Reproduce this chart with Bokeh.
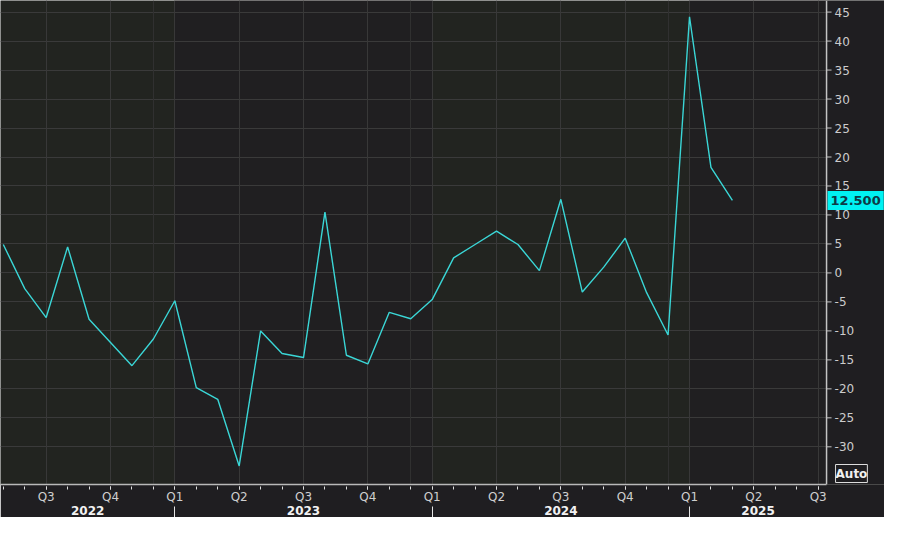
from bokeh.plotting import figure
from bokeh.models import LinearAxis, FixedTicker, Range1d, Grid, BoxAnnotation, Label, Span
from bokeh.core.properties import value
from bokeh.embed import file_html
from bokeh.resources import INLINE

# ---- data ----
months = ["2022-05", "2022-06", "2022-07", "2022-08", "2022-09", "2022-10", "2022-11", "2022-12",
          "2023-01", "2023-02", "2023-03", "2023-04", "2023-05", "2023-06", "2023-07", "2023-08",
          "2023-09", "2023-10", "2023-11", "2023-12",
          "2024-01", "2024-02", "2024-03", "2024-04", "2024-05", "2024-06", "2024-07", "2024-08",
          "2024-09", "2024-10", "2024-11", "2024-12",
          "2025-01", "2025-02", "2025-03"]
values = [4.9, -2.7, -7.7, 4.5, -8.0, -12.0, -16.0, -11.4,
          -4.8, -19.8, -21.8, -33.3, -10.0, -13.9, -14.6, 10.5,
          -14.2, -15.7, -6.8, -7.9,
          -4.6, 2.6, 4.9, 7.2, 4.9, 0.4, 12.7, -3.3,
          1.0, 6.0, -3.4, -10.7,
          44.2, 18.2, 12.5]
quarter_labels = ["Q3", "Q4", "Q1", "Q2", "Q3", "Q4", "Q1", "Q2", "Q3", "Q4", "Q1", "Q2", "Q3"]
year_labels = ["2022", "2023", "2024", "2025"]
y_ticks = [-30, -25, -20, -15, -10, -5, 0, 5, 10, 15, 20, 25, 30, 35, 40, 45]
y_tick_labels = ["-30", "-25", "-20", "-15", "-10", "-5", "0", "5", "10", "15", "20",
                 "25", "30", "35", "40", "45"]

BASE_YEAR = 2022


def month_index(s):
    y, m = s.split("-")
    return (int(y) - BASE_YEAR) * 12 + int(m) - 1


x = [month_index(m) for m in months]

W, H = 884, 517
# view window (months since Jan 2022); value scale sits at x_axis_pos
x_start, x_axis_pos = 3.87, 42.39
x_full_end = x_start + (x_axis_pos - x_start) * 900.0 / 841.0
px = (x_full_end - x_start) / W          # months per pixel
y_start, y_end = -36.5, 47.0

quarter_ticks = [6 + 3 * i for i in range(len(quarter_labels))]
month_ticks = list(range(4, 43))
year_bounds = [12 * (i + 1) for i in range(len(year_labels) - 1)]
year_starts = [x_start] + year_bounds
year_ends = year_bounds + [x_axis_pos]
year_centers = [(a + b) / 2 for a, b in zip(year_starts, year_ends)]
dec_ticks = [b - 1 for b in year_bounds]

FONT = "DejaVu Sans"
BORDER = "#1f1e21"

p = figure(width=W, height=H, output_backend="svg", toolbar_location=None,
           x_range=Range1d(x_start, x_full_end), y_range=Range1d(y_start, y_end),
           x_axis_location=None, y_axis_location=None,
           min_border_left=0, min_border_top=0, min_border_right=0, min_border_bottom=0,
           background_fill_color="#222420", border_fill_color=BORDER,
           outline_line_color=None)
p.center = []

# alternating year bands
for i, (a, b) in enumerate(zip(year_starts, year_ends)):
    if i % 2 == 1:
        p.add_layout(BoxAnnotation(left=a, right=b, fill_color="#201f21", fill_alpha=1.0,
                                   line_color=None, level="image"))

p.add_layout(Grid(dimension=1, ticker=FixedTicker(ticks=y_ticks),
                  grid_line_color="#3a3a3a", grid_line_width=1))
p.add_layout(Grid(dimension=0, ticker=FixedTicker(ticks=quarter_ticks),
                  grid_line_color="#383838", grid_line_width=1))
p.add_layout(Grid(dimension=0, ticker=FixedTicker(ticks=dec_ticks),
                  grid_line_color="#303030", grid_line_width=1))

p.line(x, values, line_color="#3ad6d6", line_width=1.4)

# value-scale area on the right
p.add_layout(BoxAnnotation(left=x_axis_pos, fill_color=BORDER, fill_alpha=1.0,
                           line_color=None))
p.add_layout(Span(location=x_axis_pos, dimension="height", line_color="#c4c4c4",
                  line_width=1.5, level="overlay"))
p.segment(x0=[x_axis_pos] * len(y_ticks), y0=y_ticks,
          x1=[x_axis_pos + 5 * px] * len(y_ticks), y1=y_ticks,
          line_color="#c4c4c4", line_width=1, level="overlay")
p.text(x=[x_axis_pos] * len(y_ticks), y=y_ticks, text=y_tick_labels,
       x_offset=8, text_align="left", text_baseline="middle",
       text_color="#cccccc", text_font=value(FONT), text_font_size="12px",
       level="overlay")

# last value tag
p.add_layout(Label(x=x_axis_pos, y=values[-1], text=f"{values[-1]:.3f}",
                   text_align="left", text_baseline="middle", x_offset=1,
                   background_fill_color="#00f2f2", text_color="#0c3a46",
                   text_font=FONT, text_font_style="bold", text_font_size="13px",
                   padding=(3, 5), level="overlay"))

# "Auto" button-like tag
p.add_layout(Label(x=x_axis_pos, y=y_start, text="Auto", x_offset=9, y_offset=2,
                   text_align="left", text_baseline="bottom",
                   text_color="#f0f0f0", text_font=FONT, text_font_style="bold",
                   text_font_size="12px", border_line_color="#dddddd", padding=(0, 2),
                   level="overlay"))

# quarter axis
qaxis = LinearAxis(ticker=FixedTicker(ticks=quarter_ticks, minor_ticks=month_ticks),
                   major_label_overrides={t: lab for t, lab in zip(quarter_ticks, quarter_labels)},
                   bounds=(x_start, x_axis_pos),
                   axis_line_color="#b9b9b9", axis_line_width=1.5,
                   major_tick_line_color="#dddddd", minor_tick_line_color="#dddddd",
                   major_tick_in=-2, major_tick_out=5, minor_tick_in=-2, minor_tick_out=5,
                   major_label_standoff=0, axis_label_standoff=0,
                   major_label_text_line_height=1.0,
                   major_label_text_color="#cfcfcf", major_label_text_font=FONT,
                   major_label_text_font_size="12px")
p.add_layout(qaxis, "below")

# year axis
yaxis = LinearAxis(ticker=FixedTicker(ticks=year_centers, minor_ticks=year_bounds),
                   major_label_overrides={t: lab for t, lab in zip(year_centers, year_labels)},
                   axis_line_color=None, major_tick_line_color=None,
                   minor_tick_line_color="#e6e6e6", minor_tick_in=0, minor_tick_out=16,
                   major_tick_in=0, major_tick_out=0, major_label_standoff=-17,
                   axis_label_standoff=0, major_label_text_line_height=1.0,
                   major_label_text_color="#f2f2f2", major_label_text_font=FONT,
                   major_label_text_font_style="bold", major_label_text_font_size="12px")
p.add_layout(yaxis, "below")

open("out.html", "w").write(file_html(p, INLINE))
